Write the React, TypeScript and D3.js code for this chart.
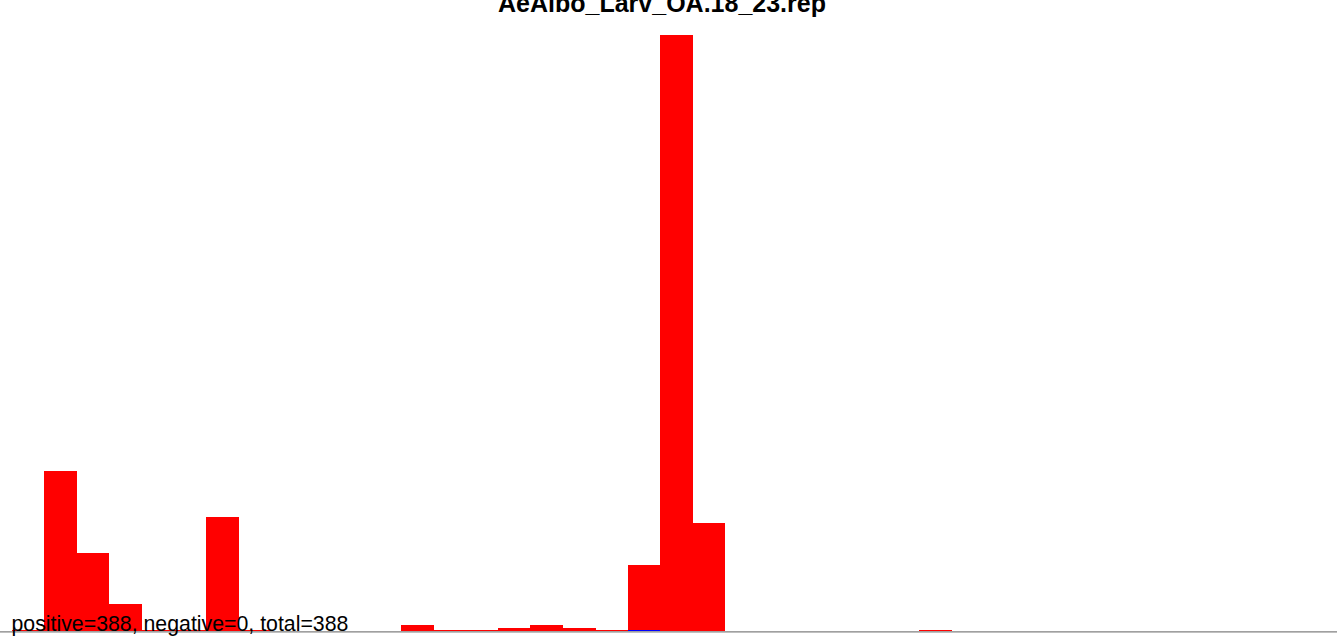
import React from 'react';
import * as d3 from 'd3';

// histogram of positive counts per bin (bin 0 .. 20)
const title = 'AeAlbo_Larv_OA.18_23.rep';
const counts = [53, 26, 9, 0, 0, 38, 0, 0, 0, 0, 0, 2, 0, 0, 1, 2, 1, 0, 22, 198, 36];
// bins with a thin trace on the baseline
const redTraceBins = [-1, 0, 1, 2, 3, 4, 5, 6, 12, 13, 17, 27];
const blueTraceBins = [18];
const summary = { positive: 388, negative: 0, total: 388 };

const W = 1337;
const H = 636;

const App: React.FC = () => {
    const binW = 32.42;
    const x = d3.scaleLinear().domain([-1, 40]).range([11.6, 11.6 + 41 * binW]);
    const y = d3.scaleLinear().domain([0, d3.max(counts) as number]).range([631, 35]);

    return (
        <svg
            width={W}
            height={H}
            style={{ position: 'absolute', left: 0, top: 0, background: '#fff' }}
            fontFamily="'Liberation Sans', Arial, sans-serif"
        >
            <line x1={0} x2={W} y1={631.8} y2={631.8} stroke="#808080" strokeWidth={1.3} />
            <g shapeRendering="crispEdges">
                {redTraceBins.map(b => (
                    <rect key={'r' + b} x={x(b)} y={y(0) - 1} width={x(b + 1) - x(b)} height={1.2} fill="#ff0000" />
                ))}
                {blueTraceBins.map(b => (
                    <rect key={'b' + b} x={x(b)} y={y(0) - 1} width={x(b + 1) - x(b)} height={1.2} fill="#0000ff" />
                ))}
                {counts.map((c, i) => c > 0 && (
                    <rect
                        key={i}
                        x={x(i)}
                        y={y(c)}
                        width={x(i + 1) - x(i) + 0.5}
                        height={y(0) - y(c) - (blueTraceBins.includes(i) ? 1 : 0)}
                        fill="#ff0000"
                    />
                ))}
            </g>
            <text x={662} y={12} textAnchor="middle" fontSize={25} fontWeight="bold" fill="#000">
                {title}
            </text>
            <text x={11.5} y={631} fontSize={21.3} fill="#000">
                {`positive=${summary.positive}, negative=${summary.negative}, total=${summary.total}`}
            </text>
        </svg>
    );
};

export default App;
